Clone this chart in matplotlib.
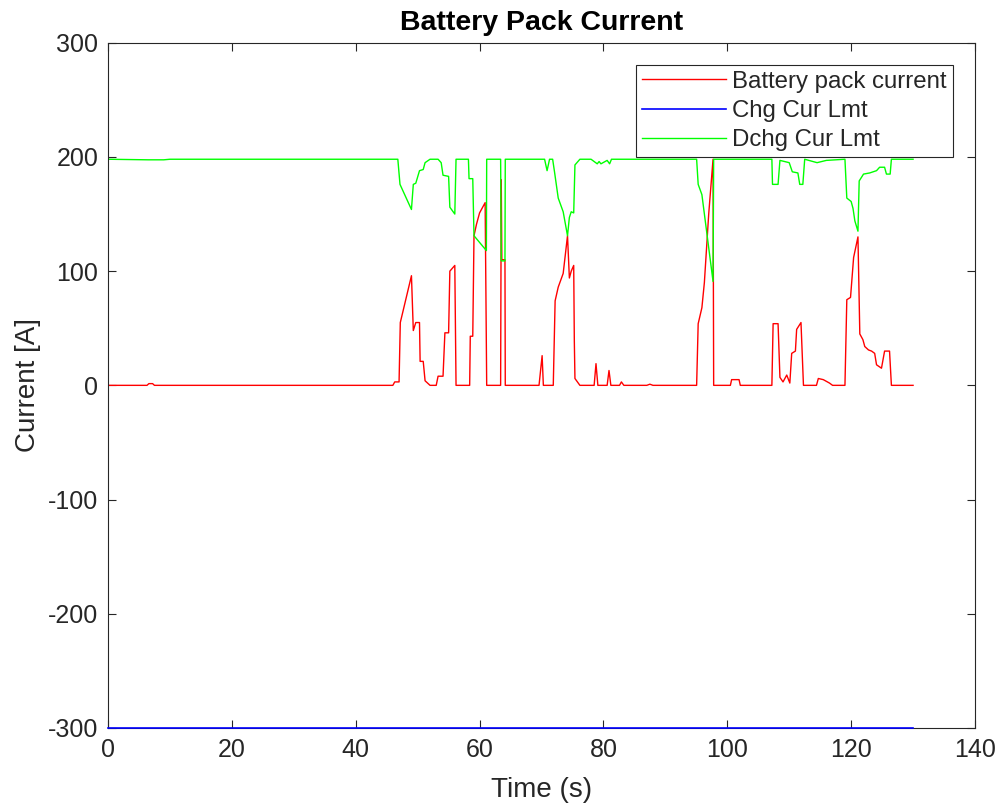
import numpy as np
import matplotlib
matplotlib.use("Agg")
import matplotlib.pyplot as plt

# breakpoints (time in s, current in A)
pack_t = [0, 6.3, 6.6, 7.2, 7.5, 46.0, 46.3, 47.0, 47.2, 49.0, 49.3, 49.7, 50.3, 50.4,
          50.9, 51.2, 52.0, 53.0, 53.3, 54.1, 54.4, 55.0, 55.2, 56.0, 56.2, 58.4, 58.5,
          58.9, 59.1, 59.5, 60.0, 60.9, 61.15, 63.4, 63.5, 63.6, 64.1, 64.15, 69.6, 70.1,
          70.3, 71.9, 72.2, 72.7, 73.5, 74.2, 74.5, 74.8, 75.2, 75.3, 75.4, 76.2, 78.5,
          78.8, 79.1, 80.6, 80.9, 81.2, 82.6, 82.9, 83.3, 87.0, 87.5, 88.0, 95.05, 95.3,
          95.9, 96.3, 97.0, 97.7, 97.8, 100.5, 100.7, 101.9, 102.1, 107.2, 107.4, 108.2,
          108.5, 109.0, 109.6, 110.1, 110.4, 111.0, 111.2, 111.9, 112.3, 114.4, 114.7,
          115.5, 116.5, 117.0, 119.0, 119.3, 119.9, 120.4, 121.1, 121.4, 121.9, 122.2,
          122.8, 123.3, 123.8, 124.1, 124.9, 125.4, 126.2, 126.5, 130.0]
pack_i = [0, 0, 1.5, 1.5, 0, 0, 3, 3, 55, 96, 48, 55, 55, 21,
          21, 4, 0, 0, 8, 8, 46, 46, 100, 105, 0, 0, 43,
          43, 131, 141, 151, 160, 0, 0, 180, 110, 110, 0, 0, 26,
          0, 0, 74, 86, 98, 131, 94, 100, 105, 39, 6, 0, 0,
          19, 0, 0, 13, 0, 0, 3, 0, 0, 1, 0, 0, 54,
          68, 90, 150, 198, 0, 0, 5, 5, 0, 0, 54, 54,
          7, 3, 9, 2, 28, 30, 49, 55, 0, 0, 6,
          5, 2, 0, 0, 75, 77, 112, 130, 45, 40, 34,
          31, 30, 28, 18, 15, 30, 30, 0, 0]

chg_t = [0, 130]
chg_i = [-300, -300]

dchg_t = [0, 6.5, 9.0, 10.0, 46.8, 47.15, 49.0, 49.3, 49.7, 50.3, 50.9, 51.2, 52.0, 53.3,
          53.8, 54.1, 55.0, 55.2, 56.0, 56.2, 58.2, 58.3, 58.9, 59.1, 61.1, 61.15, 63.4,
          63.5, 64.1, 64.15, 70.5, 70.9, 71.3, 71.8, 72.1, 72.7, 73.5, 74.2, 74.5, 74.8,
          75.2, 75.4, 76.2, 78.0, 79.0, 79.3, 79.6, 80.6, 81.0, 81.3, 95.05, 95.3, 95.9,
          97.7, 97.8, 107.2, 107.3, 108.2, 108.5, 110.0, 110.5, 111.4, 111.7, 112.2, 112.5,
          114.5, 116.0, 119.0, 119.3, 120.0, 120.3, 120.6, 121.1, 121.3, 122.0, 123.0,
          124.1, 124.6, 125.4, 125.7, 126.3, 126.5, 130.0]
dchg_i = [198, 197.5, 197.5, 198, 198, 176, 154, 176, 177, 188, 189, 195, 198, 198,
          195, 184, 183, 156, 150, 198, 198, 181, 181, 131, 118, 198, 198,
          109, 109, 198, 198, 188, 198, 198, 187, 164, 152, 131, 147, 152,
          151, 193, 198, 198, 194, 196, 194, 197, 194, 198, 198, 176, 167,
          91, 198, 198, 176, 176, 197, 195, 187, 186, 176, 176, 198,
          195, 197, 198, 164, 161, 155, 144, 135, 179, 185, 186,
          188, 191, 191, 185, 185, 198, 198]

x_ticks = np.arange(0, 141, 20)
y_ticks = np.arange(-300, 301, 100)

dark = (0.15, 0.15, 0.15)
plt.rcParams['font.family'] = ['Liberation Sans', 'DejaVu Sans']
plt.rcParams['axes.unicode_minus'] = False

fig = plt.figure(figsize=(10, 8.07), dpi=100)
ax = fig.add_axes([0.108, 0.098, 0.867, 0.849])

ax.plot(pack_t, pack_i, color=(1, 0, 0), lw=1.0, label='Battery pack current')
ax.plot(chg_t, chg_i, color=(0, 0, 1), lw=1.2, label='Chg Cur Lmt', clip_on=False, zorder=3)
ax.plot(dchg_t, dchg_i, color=(0, 1, 0), lw=1.0, label='Dchg Cur Lmt')

ax.set_xlim(0, 140)
ax.set_ylim(-300, 300)
ax.set_xticks(x_ticks)
ax.set_yticks(y_ticks)

for s in ax.spines.values():
    s.set_color(dark)
    s.set_linewidth(0.8)
ax.tick_params(direction='in', length=6, width=0.8, colors=dark, labelsize=18,
               top=True, right=True, pad=7)

ax.set_title('Battery Pack Current', fontsize=20.5, fontweight='bold', color='black', pad=9)
ax.set_xlabel('Time (s)', fontsize=20, color=dark, labelpad=11)
ax.set_ylabel('Current [A]', fontsize=20, color=dark, labelpad=5)

leg = ax.legend(loc='upper right', bbox_to_anchor=(0.9746, 0.968), borderaxespad=0,
                fontsize=17.3, fancybox=False, framealpha=1, edgecolor=dark,
                handlelength=3.5, handletextpad=0.25, labelspacing=0.3,
                borderpad=0.25)
leg.get_frame().set_linewidth(0.8)
for txt in leg.get_texts():
    txt.set_color(dark)

fig.savefig('out.png', dpi=100)
